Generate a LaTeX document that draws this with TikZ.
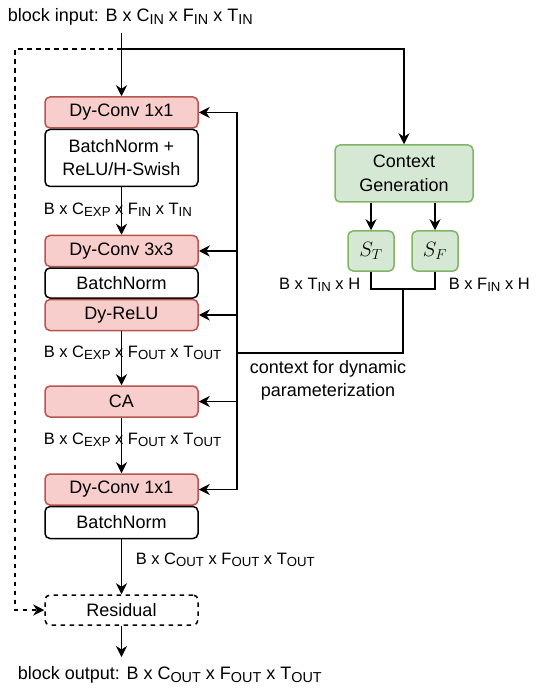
\documentclass[tikz,border=0pt]{standalone}
\usepackage{fontspec}
\setmainfont{Liberation Sans}
\usepackage{graphicx}
\usepackage{tikz}
\usetikzlibrary{positioning, arrows.meta}
\definecolor{pinkfill}{HTML}{F8CECC}
\definecolor{pinkline}{HTML}{B85450}
\definecolor{greenfill}{HTML}{D5E8D4}
\definecolor{greenline}{HTML}{82B366}
\newcommand{\subtxt}[1]{\raisebox{-0.14em}{\scalebox{0.8}{#1}}}
\tikzstyle{dynnode}=[
    draw=pinkline,  % red border of the dynamic layers
    fill=pinkfill,  % light red fill
    rectangle, rounded corners=5pt,
    minimum width=153pt, minimum height=31pt, inner sep=0pt,
    line width=1.5pt,
    font=\fontsize{18}{21}\selectfont]
\tikzstyle{plainnode}=[
    draw=black,     % black border of the static layers
    fill=white,
    rectangle, rounded corners=5pt,
    minimum width=153pt, minimum height=31pt, inner sep=0pt,
    line width=1.5pt, align=center,
    font=\fontsize{18}{23}\selectfont]
\tikzstyle{ctxnode}=[
    draw=greenline, % green border of the context part
    fill=greenfill, % light green fill
    rectangle, rounded corners=5pt,
    inner sep=0pt, line width=1.5pt, align=center,
    font=\fontsize{18}{24}\selectfont]
\tikzstyle{shapelabel}=[
    inner sep=0pt,
    font=\fontsize{16.5}{19}\selectfont]
\tikzstyle{biglabel}=[
    inner sep=0pt, align=center,
    font=\fontsize{18}{23}\selectfont]
\begin{document}
\begin{tikzpicture}[x=1pt, y=-1pt, ->, >={Stealth[length=11pt, width=11pt, inset=3.5pt]}, line width=1.6pt]
        \useasboundingbox (0,0) rectangle (548,692);
        % Draw the main column.
        \node[dynnode] (dca) at (121.5,112.5) {Dy-Conv 1x1};
        \node[plainnode, below=0pt of dca, minimum height=57pt] (bna) {BatchNorm +\\ReLU/H-Swish};
        \node[dynnode] (dcb) at (121.5,251) {Dy-Conv 3x3};
        \node[plainnode, below=0pt of dcb, minimum height=30pt] (bnb) {BatchNorm};
        \node[dynnode, below=0pt of bnb] (relu) {Dy-ReLU};
        \node[dynnode] (ca) at (121.5,401.5) {CA};
        \node[dynnode] (dcc) at (121.5,489.5) {Dy-Conv 1x1};
        \node[plainnode, below=0pt of dcc, minimum height=32pt] (bnc) {BatchNorm};
        \node[plainnode, dash pattern=on 4.5pt off 4.5pt, minimum height=30pt] (res) at (121.5,610) {Residual};

        % Draw the context part.
        \node[ctxnode, minimum width=138pt, minimum height=57pt] (ctx) at (404,173.5) {Context\\Generation};
        \node[ctxnode, minimum width=46pt, minimum height=40pt, font=\fontsize{22}{24}\selectfont] (st) at (371,251) {$S_T$};
        \node[ctxnode, minimum width=46pt, minimum height=40pt, font=\fontsize{22}{24}\selectfont] (sf) at (435,251) {$S_F$};

        % Texts
        \node[biglabel, anchor=west] (inlbl) at (7,17) {block input: B x C\subtxt{IN} x F\subtxt{IN} x T\subtxt{IN}};
        \node[biglabel, anchor=west] (outlbl) at (17,675) {block output: B x C\subtxt{OUT} x F\subtxt{OUT} x T\subtxt{OUT}};
        \node[shapelabel, anchor=west] (sa) at (43,210) {B x C\subtxt{EXP} x F\subtxt{IN} x T\subtxt{IN}};
        \node[shapelabel, anchor=west] (sb) at (43,353) {B x C\subtxt{EXP} x F\subtxt{OUT} x T\subtxt{OUT}};
        \node[shapelabel, anchor=west] (sc) at (43,440) {B x C\subtxt{EXP} x F\subtxt{OUT} x T\subtxt{OUT}};
        \node[shapelabel, anchor=west] (sd) at (135,560) {B x C\subtxt{OUT} x F\subtxt{OUT} x T\subtxt{OUT}};
        \node[shapelabel, anchor=east] (stlbl) at (361,285) {B x T\subtxt{IN} x H};
        \node[shapelabel, anchor=west] (sflbl) at (448,285) {B x F\subtxt{IN} x H};
        \node[biglabel] (ctxlbl) at (328,380) {context for dynamic\\parameterization};

        % Coordinates for the connectors
        \coordinate (intop) at (121.5,33);
        \coordinate (split) at (121.5,49);
        \coordinate (join) at (403,289);
        \coordinate (busmid) at (237,353);
        \coordinate (bustop) at (237,112.5);
        \coordinate (busbot) at (237,489.5);
        \coordinate (outtip) at (121.5,657);

        % Connect the main column
        \draw (intop) -- (dca.north);
        \draw (bna) -- (dcb);
        \draw (relu) -- (ca);
        \draw (ca) -- (dcc);
        \draw (bnc) -- (res);
        \draw (res) -- (outtip);
        \draw[dash pattern=on 4.5pt off 4.5pt] (split) -- ++(-106.5,0) |- (res.west);

        % Connect the context part
        \draw (split) -| (ctx.north);
        \draw (ctx.south -| st) -- (st);
        \draw (ctx.south -| sf) -- (sf);
        \draw[-] (st.south) |- (join) -| (sf.south);
        \draw[-] (join) |- (busmid);
        \draw[-] (bustop) -- (busbot);
        \foreach \layer in {dca, dcb, relu, ca, dcc}
            \draw (\layer.east -| busmid) -- (\layer.east);
\end{tikzpicture}
\end{document}
